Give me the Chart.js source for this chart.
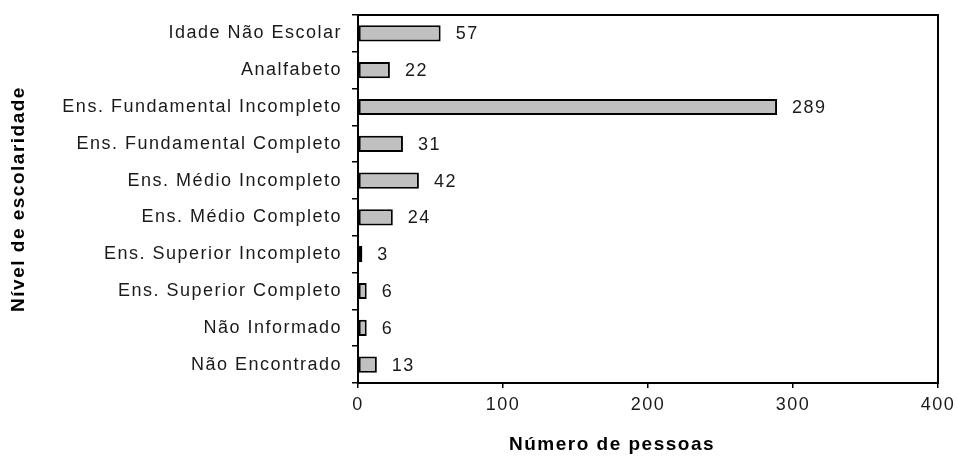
<!DOCTYPE html>
<html>
<head>
<meta charset="utf-8">
<script src="https://cdn.jsdelivr.net/npm/chart.js@4/dist/chart.umd.min.js"></script>
<style>
  html, body { margin: 0; padding: 0; background: #fff; }
  #wrap { width: 957px; height: 459px; }
</style>
</head>
<body>
<div id="wrap"><canvas id="escolaridadeChart" width="957" height="459"></canvas></div>
<script>
// categories (top to bottom) and number of people
const categorias = [
    'Idade Não Escolar',
    'Analfabeto',
    'Ens. Fundamental Incompleto',
    'Ens. Fundamental Completo',
    'Ens. Médio Incompleto',
    'Ens. Médio Completo',
    'Ens. Superior Incompleto',
    'Ens. Superior Completo',
    'Não Informado',
    'Não Encontrado'
];
const pessoas = [57, 22, 289, 31, 42, 24, 3, 6, 6, 13];
const xTicks = [0, 100, 200, 300, 400];
const tituloX = 'Número de pessoas';
const tituloY = 'Nível de escolaridade';

const familia = "'Liberation Sans', Arial, sans-serif";
const fonteTick = { family: familia, size: 18 };
const corTexto = '#1a1a1a';
const espaco = '1.5px';

// the GDI-like wide text: canvas resets state on resize, so set it each pass
function setSpacing(chart) {
    chart.ctx.letterSpacing = espaco;
}

// frame, value labels and axis titles
const extras = {
    id: 'extras',
    beforeUpdate: setSpacing,
    beforeLayout: setSpacing,
    beforeDraw: setSpacing,
    afterDatasetsDraw(chart) {
        const ctx = chart.ctx;
        const area = chart.chartArea;
        const xs = chart.scales.x;
        const meta = chart.getDatasetMeta(0);

        ctx.save();
        ctx.letterSpacing = espaco;
        ctx.font = '18px ' + familia;
        ctx.fillStyle = corTexto;
        ctx.textAlign = 'left';
        ctx.textBaseline = 'middle';
        meta.data.forEach((bar, i) => {
            ctx.fillText(String(pessoas[i]), xs.getPixelForValue(pessoas[i]) + 15, bar.y + 1);
        });

        // plot box
        ctx.strokeStyle = '#000';
        ctx.lineWidth = 2;
        ctx.strokeRect(area.left, area.top, area.right - area.left, area.bottom - area.top);

        // axis titles
        ctx.font = 'bold 19px ' + familia;
        ctx.fillStyle = '#000';
        ctx.letterSpacing = '1.5px';
        ctx.textAlign = 'center';
        ctx.fillText(tituloX, 612, 445);
        ctx.translate(19, (area.top + area.bottom) / 2);
        ctx.rotate(-Math.PI / 2);
        ctx.fillText(tituloY, 0, 0);
        ctx.restore();
    }
};

const ctxEsc = document.getElementById('escolaridadeChart').getContext('2d');
const escolaridadeChart = new Chart(ctxEsc, {
    type: 'bar',
    data: {
        labels: categorias,
        datasets: [{
            data: pessoas,
            backgroundColor: '#c0c0c0',
            borderColor: '#000',
            borderWidth: 2,
            borderSkipped: false,
            categoryPercentage: 1,
            barPercentage: 0.44
        }]
    },
    options: {
        indexAxis: 'y',
        responsive: false,
        animation: false,
        devicePixelRatio: 1,
        layout: { padding: { top: 15, right: 19, left: 0, bottom: 0 } },
        plugins: {
            legend: { display: false },
            tooltip: { enabled: false }
        },
        scales: {
            x: {
                min: 0,
                max: 400,
                afterBuildTicks: axis => { axis.ticks = xTicks.map(v => ({ value: v })); },
                afterFit: axis => {
                    axis.height = 76;
                    axis.paddingLeft = 0;
                    axis.paddingRight = 0;
                },
                grid: {
                    drawOnChartArea: false,
                    tickLength: 5,
                    color: '#000',
                    lineWidth: 1.5
                },
                border: { display: true, color: '#000', width: 2 },
                ticks: { font: fonteTick, color: corTexto, padding: 6, maxRotation: 0 }
            },
            y: {
                afterFit: axis => {
                    axis.width = 358;
                    axis.paddingTop = 0;
                    axis.paddingBottom = 0;
                },
                grid: {
                    drawOnChartArea: false,
                    tickLength: 6,
                    color: '#000',
                    lineWidth: 1.5
                },
                border: { display: true, color: '#000', width: 2 },
                ticks: { font: fonteTick, color: corTexto, padding: 10, autoSkip: false }
            }
        }
    },
    plugins: [extras]
});
</script>
</body>
</html>
